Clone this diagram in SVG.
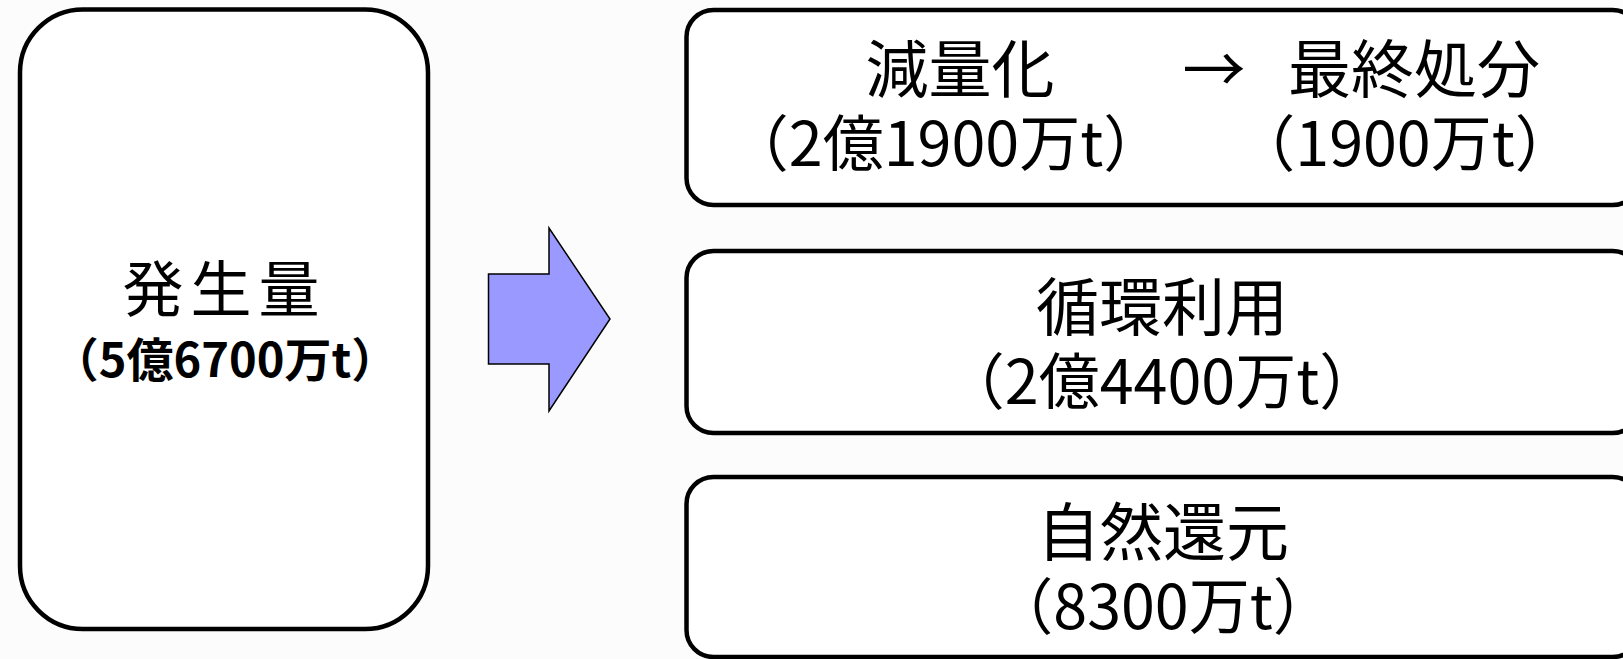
<svg xmlns="http://www.w3.org/2000/svg" width="1623" height="659" viewBox="0 0 1623 659">
<style>
.box{fill:#FFFFFF;stroke:#000000;stroke-width:4.5}
.t{font-family:"Noto Sans CJK JP","Noto Sans",sans-serif;fill:#000000;text-anchor:middle}
.l1{font-size:63px}
.l2{font-size:61px}
</style>
<rect x="0" y="0" width="1623" height="659" fill="#FCFCFC"/>
<g id="source">
<rect class="box" x="20" y="9.5" width="408" height="619.5" rx="63" ry="63"/>
<text class="t" font-size="61" x="153 221 289" y="312">発生量</text>
<text class="t" font-size="47" font-weight="bold" x="225" y="377">（5億6700万t）</text>
</g>
<g id="connectors">
<polygon points="488.5,274 549,274 549,228 610,319 549,411 549,364 488.5,364" fill="#9999FF" stroke="#000000" stroke-width="1.5" stroke-linejoin="miter"/>
</g>
<g id="reduction">
<rect class="box" x="686.5" y="10" width="953" height="195" rx="27" ry="27"/>
<text class="t l1" x="960" y="92">減量化</text>
<text class="t l1" x="1214" y="92">→</text>
<text class="t l1" x="1414" y="92">最終処分</text>
<text class="t l2" x="946" y="166">（2億1900万t）</text>
<text class="t l2" x="1405" y="166">（1900万t）</text>
</g>
<g id="recycling">
<rect class="box" x="686.5" y="251" width="953" height="182" rx="27" ry="27"/>
<text class="t l1" x="1162" y="330">循環利用</text>
<text class="t l2" x="1162" y="404">（2億4400万t）</text>
</g>
<g id="natural">
<rect class="box" x="686.5" y="477" width="953" height="180" rx="27" ry="27"/>
<text class="t l1" x="1163" y="555">自然還元</text>
<text class="t l2" x="1163" y="629">（8300万t）</text>
</g>
</svg>
